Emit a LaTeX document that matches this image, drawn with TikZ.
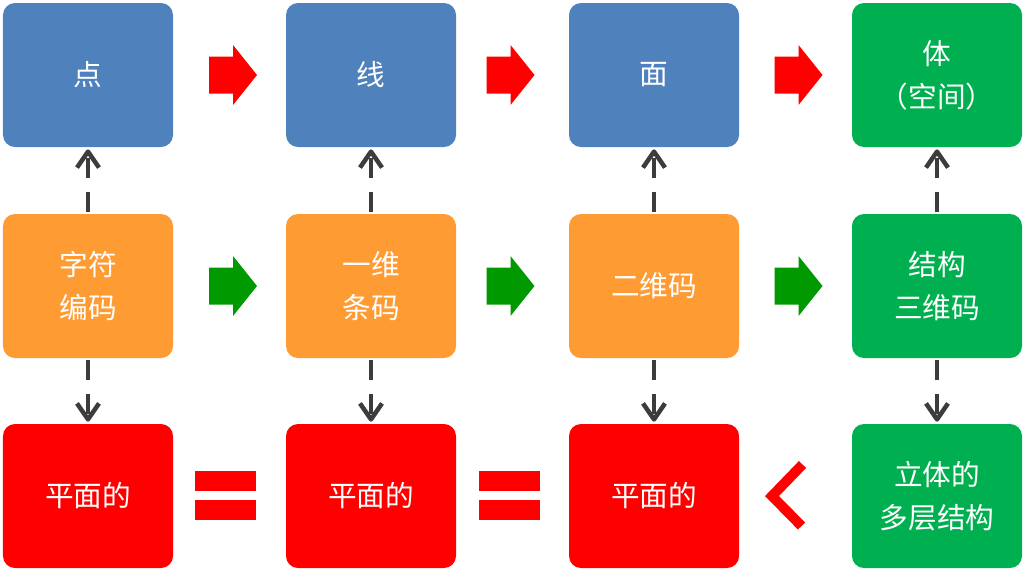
\documentclass[tikz,border=0pt]{standalone}
\usepackage{fontspec}
\newfontfamily\cjk{Noto Sans CJK SC}
\usetikzlibrary{arrows.meta, calc}

\definecolor{boxblue}{RGB}{79,129,189}
\definecolor{boxorange}{RGB}{255,155,51}
\definecolor{boxgreen}{RGB}{0,176,80}
\definecolor{arrowgreen}{RGB}{0,153,0}
\definecolor{linegray}{RGB}{60,60,60}

\begin{document}
\begin{tikzpicture}
\tikzset{
    box/.style={rectangle, rounded corners=0.24cm, minimum width=3.4cm, minimum height=2.88cm, inner sep=0pt, text=white, align=center, font=\cjk\fontsize{16.3}{24.4}\selectfont},
    dim/.style={box, fill=boxblue},
    code/.style={box, fill=boxorange},
    space/.style={box, fill=boxgreen},
    flat/.style={box, fill=red},
    dashedge/.style={-{Straight Barb[length=0.32cm, width=0.44cm, line width=0.09cm, line join=round]}, line width=0.08cm, draw=linegray, dash pattern=on 0.4cm off 0.27cm, shorten <=0.04cm, shorten >=0.04cm},
    bigarrow/.pic={\fill (-0.48,-0.37) -- (0,-0.37) -- (0,-0.6) -- (0.48,0) -- (0,0.6) -- (0,0.37) -- (-0.48,0.37) -- cycle;},
    equalsign/.pic={\fill (-0.61,0.1) rectangle (0.61,0.5); \fill (-0.61,-0.08) rectangle (0.61,-0.48);},
    lesssign/.pic={\draw[line width=0.2cm] (0.14,0.63) -- (-0.47,0) -- (0.12,-0.6);}
}

\useasboundingbox (0,0) rectangle (20.5,-11.42);

% Top row: dimensions
\node[dim] (dot) at (1.76,-1.5) {点};
\node[dim] (line) at (7.42,-1.5) {线};
\node[dim] (face) at (13.08,-1.5) {面};
\node[space] (body) at (18.74,-1.5) {体\\（空间）};

% Middle row: codes
\node[code] (char) at (1.76,-5.72) {字符\\编码};
\node[code] (bar1d) at (7.42,-5.72) {一维\\条码};
\node[code] (code2d) at (13.08,-5.72) {二维码};
\node[space] (code3d) at (18.74,-5.72) {结构\\三维码};

% Bottom row: flat or layered
\node[flat] (flat1) at (1.76,-9.92) {平面的};
\node[flat] (flat2) at (7.42,-9.92) {平面的};
\node[flat] (flat3) at (13.08,-9.92) {平面的};
\node[space] (layers) at (18.74,-9.92) {立体的\\多层结构};

% Block arrows between the columns
\pic[red] at ($(dot.east)!0.5!(line.west)+(0.07,0)$) {bigarrow};
\pic[red] at ($(line.east)!0.5!(face.west)+(-0.04,0)$) {bigarrow};
\pic[red] at ($(face.east)!0.5!(body.west)+(0.06,0)$) {bigarrow};
\pic[arrowgreen] at ($(char.east)!0.5!(bar1d.west)+(0.07,0)$) {bigarrow};
\pic[arrowgreen] at ($(bar1d.east)!0.5!(code2d.west)+(-0.04,0)$) {bigarrow};
\pic[arrowgreen] at ($(code2d.east)!0.5!(code3d.west)+(0.06,0)$) {bigarrow};

% Signs in the bottom row
\pic[red] at ($(flat1.east)!0.5!(flat2.west)+(-0.08,0)$) {equalsign};
\pic[red] at ($(flat2.east)!0.5!(flat3.west)+(-0.07,0)$) {equalsign};
\pic[red] at ($(flat3.east)!0.5!(layers.west)$) {lesssign};

% Dashed arrows up and down
\draw[dashedge] (char.north) -- (dot.south);
\draw[dashedge] (bar1d.north) -- (line.south);
\draw[dashedge] (code2d.north) -- (face.south);
\draw[dashedge] (code3d.north) -- (body.south);
\draw[dashedge] (char.south) -- (flat1.north);
\draw[dashedge] (bar1d.south) -- (flat2.north);
\draw[dashedge] (code2d.south) -- (flat3.north);
\draw[dashedge] (code3d.south) -- (layers.north);
\end{tikzpicture}
\end{document}
